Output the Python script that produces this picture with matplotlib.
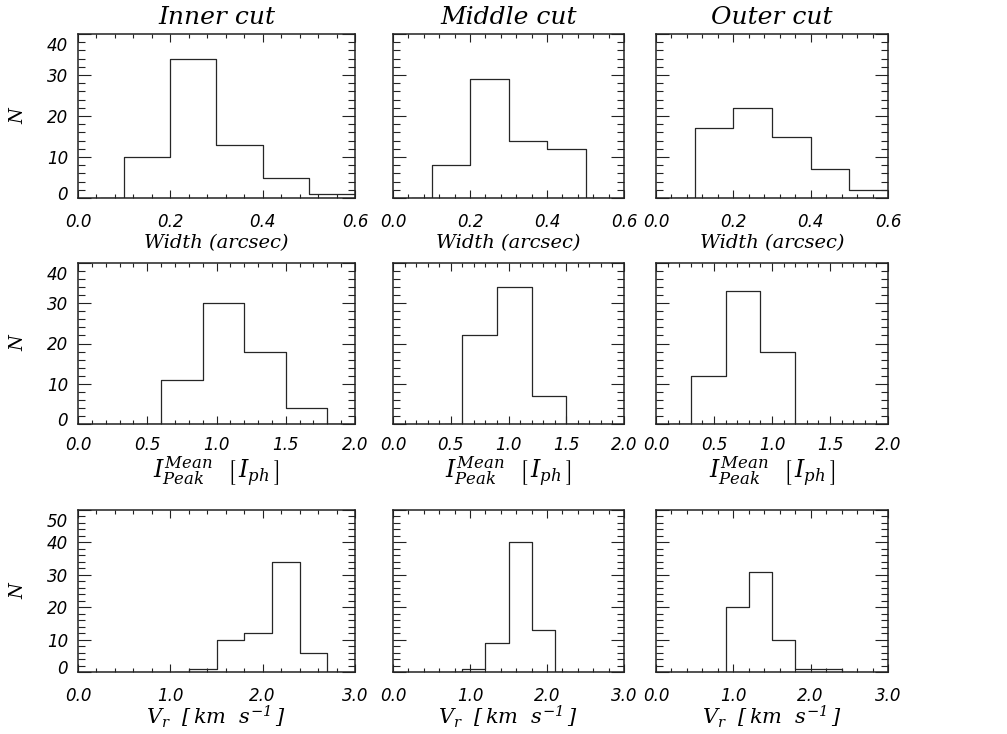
import matplotlib
matplotlib.use("Agg")
import matplotlib.pyplot as plt
import numpy as np
from matplotlib.ticker import MultipleLocator, FormatStrFormatter
from matplotlib.transforms import ScaledTranslation

plt.rcParams['mathtext.fontset'] = 'dejavuserif'
plt.rcParams['font.family'] = 'DejaVu Sans'
plt.rcParams['font.style'] = 'oblique'
plt.rcParams['font.size'] = 12

# Kopfzeilen und Achsentitel
col_titles = ['Inner cut', 'Middle cut', 'Outer cut']
row_xlabels = ['Width (arcsec)',
               r'$I^{Mean}_{Peak}\ \ \left[\,I_{ph}\,\right]$',
               r'$V_r\ \ \left[\,km\ \ s^{-1}\,\right]$']

# Reihe 1: Breite (arcsec), Bin-Mitten und Anzahlen
width_inner_x = [0.05, 0.15, 0.25, 0.35, 0.45, 0.55, 0.65]
width_inner_n = [0, 10, 34, 13, 5, 1, 0]
width_middle_x = [0.05, 0.15, 0.25, 0.35, 0.45, 0.55]
width_middle_n = [0, 8, 29, 14, 12, 0]
width_outer_x = [0.05, 0.15, 0.25, 0.35, 0.45, 0.55, 0.65]
width_outer_n = [0, 17, 22, 15, 7, 2, 0]

# Reihe 2: mittlere Peak-Intensitaet
peak_inner_x = [0.45, 0.75, 1.05, 1.35, 1.65, 1.95]
peak_inner_n = [0, 11, 30, 18, 4, 0]
peak_middle_x = [0.45, 0.75, 1.05, 1.35, 1.65]
peak_middle_n = [0, 22, 34, 7, 0]
peak_outer_x = [0.15, 0.45, 0.75, 1.05, 1.35]
peak_outer_n = [0, 12, 33, 18, 0]

# Reihe 3: Geschwindigkeit V_r (km/s)
vel_inner_x = [1.05, 1.35, 1.65, 1.95, 2.25, 2.55, 2.85]
vel_inner_n = [0, 1, 10, 12, 34, 6, 0]
vel_middle_x = [0.75, 1.05, 1.35, 1.65, 1.95, 2.25]
vel_middle_n = [0, 1, 9, 40, 13, 0]
vel_outer_x = [0.75, 1.05, 1.35, 1.65, 1.95, 2.25, 2.55]
vel_outer_n = [0, 20, 31, 10, 1, 1, 0]

rows = [
    [(width_inner_x, width_inner_n), (width_middle_x, width_middle_n), (width_outer_x, width_outer_n)],
    [(peak_inner_x, peak_inner_n), (peak_middle_x, peak_middle_n), (peak_outer_x, peak_outer_n)],
    [(vel_inner_x, vel_inner_n), (vel_middle_x, vel_middle_n), (vel_outer_x, vel_outer_n)],
]
xmax = [0.6, 2.0, 3.0]
xmajor = [0.2, 0.5, 1.0]
ymax = [40, 40, 50]

W, H = 1007, 734
fig = plt.figure(figsize=(W / 100, H / 100), dpi=100)

# Pixelpositionen der Panels (links, breite) und (oben, unten)
cols_px = [(78, 277), (393, 231), (656, 232)]
rows_px = [(34, 198), (263, 424), (510, 672)]
xlabel_y = [243, 472, 717]
xlabel_size = [14, 17, 15]
xtick_pad = [11, 9, 11]

serif = dict(family='DejaVu Serif', style='italic')

first_col = []
for r in range(3):
    top, bot = rows_px[r]
    for c in range(3):
        left, width = cols_px[c]
        ax = fig.add_axes([left / W, 1 - bot / H, width / W, (bot - top) / H])
        xs, ns = rows[r][c]
        # IDL psym=10: Stufen um die Bin-Mitten
        ax.step(xs, ns, where='mid', color='#262626', lw=0.9)
        ax.set_xlim(0, xmax[r])
        ax.set_ylim(0, ymax[r])
        ax.set_xticks(np.arange(0, xmax[r] + 1e-9, xmajor[r]))
        ax.xaxis.set_minor_locator(MultipleLocator(xmajor[r] / 5))
        ax.xaxis.set_major_formatter(FormatStrFormatter('%.1f'))
        ax.set_yticks(np.arange(0, ymax[r] + 1, 10))
        ax.yaxis.set_minor_locator(MultipleLocator(2))
        ax.tick_params(which='both', direction='in', top=True, right=True, width=0.8, color='#222222')
        ax.tick_params(axis='x', which='major', length=5.5, pad=xtick_pad[r])
        ax.tick_params(axis='x', which='minor', length=3)
        ax.tick_params(axis='y', which='major', length=9.5, pad=7)
        ax.tick_params(axis='y', which='minor', length=5)
        for s in ax.spines.values():
            s.set_linewidth(1.1)
            s.set_color('#222222')
        if c == 0:
            first_col.append(ax)
            fig.text(18 / W, 1 - (top + bot) / 2 / H, 'N', rotation=90, ha='center', va='center',
                     size=13, **serif)
        else:
            ax.tick_params(axis='y', labelleft=False)
        if r == 0:
            ax.set_title(col_titles[c], size=18, pad=7, **serif)
        fig.text((left + width / 2) / W, 1 - xlabel_y[r] / H, row_xlabels[r], ha='center', va='center',
                 size=xlabel_size[r], **serif)

# IDL schiebt oberste/unterste Beschriftung nach innen
fig.canvas.draw()
for ax in first_col:
    labs = ax.get_yticklabels()
    labs[-1].set_transform(labs[-1].get_transform() + ScaledTranslation(0, -10 / 100, fig.dpi_scale_trans))
    labs[0].set_transform(labs[0].get_transform() + ScaledTranslation(0, 5 / 100, fig.dpi_scale_trans))

fig.savefig('out.png', dpi=100)
